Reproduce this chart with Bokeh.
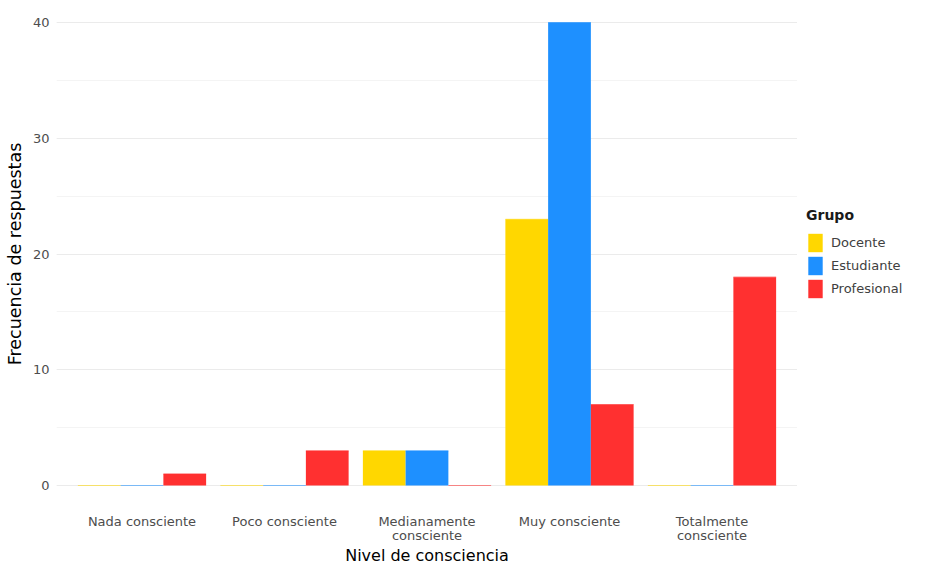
from bokeh.plotting import figure
from bokeh.layouts import row
from bokeh.models import (ColumnDataSource, FactorRange, Range1d, Legend, LegendItem,
                          SingleIntervalTicker)
from bokeh.transform import dodge
from bokeh.embed import file_html
from bokeh.resources import INLINE

# Data
niveles = ["Nada consciente", "Poco consciente", "Medianamente\nconsciente",
           "Muy consciente", "Totalmente\nconsciente"]
grupos = ["Docente", "Estudiante", "Profesional"]
docente = [0, 0, 3, 23, 0]
estudiante = [0, 0, 3, 40, 0]
profesional = [1, 3, 0, 7, 18]
colores = ["#FFD700", "#1E90FF", "#FF3030"]

source = ColumnDataSource(data=dict(nivel=niveles, Docente=docente,
                                    Estudiante=estudiante, Profesional=profesional))

FONT = "DejaVu Sans"
H = 567

p = figure(x_range=FactorRange(factors=niveles, range_padding=0.04),
           y_range=Range1d(-1.9, 41.9),
           width=797, height=H,
           min_border_top=0, min_border_left=56, min_border_bottom=0, min_border_right=0,
           output_backend="svg", toolbar_location=None)

offsets = [-0.3, 0.0, 0.3]
for g, off, c in zip(grupos, offsets, colores):
    p.vbar(x=dodge("nivel", off, range=p.x_range), top=g, bottom=0, width=0.3,
           source=source, fill_color=c, line_color=None)
    # thin edge at the top of each bar (makes zero-height bars visible as a line)
    p.segment(x0=dodge("nivel", off - 0.15, range=p.x_range), y0=g,
              x1=dodge("nivel", off + 0.15, range=p.x_range), y1=g,
              source=source, line_color=c, line_width=1.2, line_alpha=0.55)

# axes styling
p.yaxis.ticker = SingleIntervalTicker(interval=10, num_minor_ticks=2)
for ax in (p.xaxis[0], p.yaxis[0]):
    ax.axis_line_color = None
    ax.major_tick_line_color = None
    ax.minor_tick_line_color = None
    ax.major_tick_out = 0
    ax.major_tick_in = 0
    ax.minor_tick_out = 0
    ax.minor_tick_in = 0
    ax.major_label_text_font = FONT
    ax.major_label_text_font_size = "13px"
    ax.major_label_text_color = "#4d4d4d"
    ax.axis_label_text_font = FONT
    ax.axis_label_text_font_style = "normal"
    ax.axis_label_text_color = "#000000"
    ax.axis_label_text_line_height = 1.0

p.xaxis.major_label_text_line_height = 0.95
p.xaxis.axis_label = "Nivel de consciencia"
p.xaxis.axis_label_text_font_size = "16px"
p.xaxis.major_label_standoff = 6
p.xaxis.axis_label_standoff = 0
p.xaxis.major_label_orientation = "horizontal"

p.yaxis.axis_label = "Frecuencia de respuestas"
p.yaxis.axis_label_text_font_size = "17.5px"
p.yaxis.major_label_standoff = 7
p.yaxis.axis_label_standoff = 5

p.xgrid.grid_line_color = None
p.ygrid.grid_line_color = "#EBEBEB"
p.ygrid.grid_line_width = 1
p.ygrid.minor_grid_line_color = "#F4F4F4"
p.ygrid.minor_grid_line_width = 1
p.outline_line_color = None
p.background_fill_color = "white"
p.border_fill_color = "white"

# Legend panel (separate figure to the right of the plot)
pl = figure(width=120, height=H, x_range=Range1d(0, 1), y_range=Range1d(0, 1),
            x_axis_location=None, y_axis_location=None,
            min_border_top=0, min_border_left=0, min_border_bottom=0, min_border_right=0,
            output_backend="svg", toolbar_location=None)
pl.xgrid.visible = False
pl.ygrid.visible = False
pl.outline_line_color = None
leg_renderers = []
for g, c in zip(grupos, colores):
    r = pl.vbar(x=g, top=g, width=0.1, source=source, fill_color=c, line_color=None)
    r.visible = False
    leg_renderers.append(r)

legend = Legend(items=[LegendItem(label=g, renderers=[r]) for g, r in zip(grupos, leg_renderers)],
                title="Grupo", location=(9, 207), orientation="vertical")
legend.title_text_font = FONT
legend.title_text_font_style = "bold"
legend.title_text_font_size = "14px"
legend.title_text_color = "#1a1a1a"
legend.title_standoff = 8
legend.label_text_font = FONT
legend.label_text_font_size = "13px"
legend.label_text_color = "#404040"
legend.glyph_width = 18
legend.glyph_height = 23
legend.label_height = 23
legend.spacing = 0
legend.padding = 2
legend.margin = 0
legend.label_standoff = 7
legend.border_line_color = None
legend.background_fill_alpha = 0
pl.add_layout(legend, "center")

layout = row(p, pl)
open("out.html", "w").write(file_html(layout, INLINE))
